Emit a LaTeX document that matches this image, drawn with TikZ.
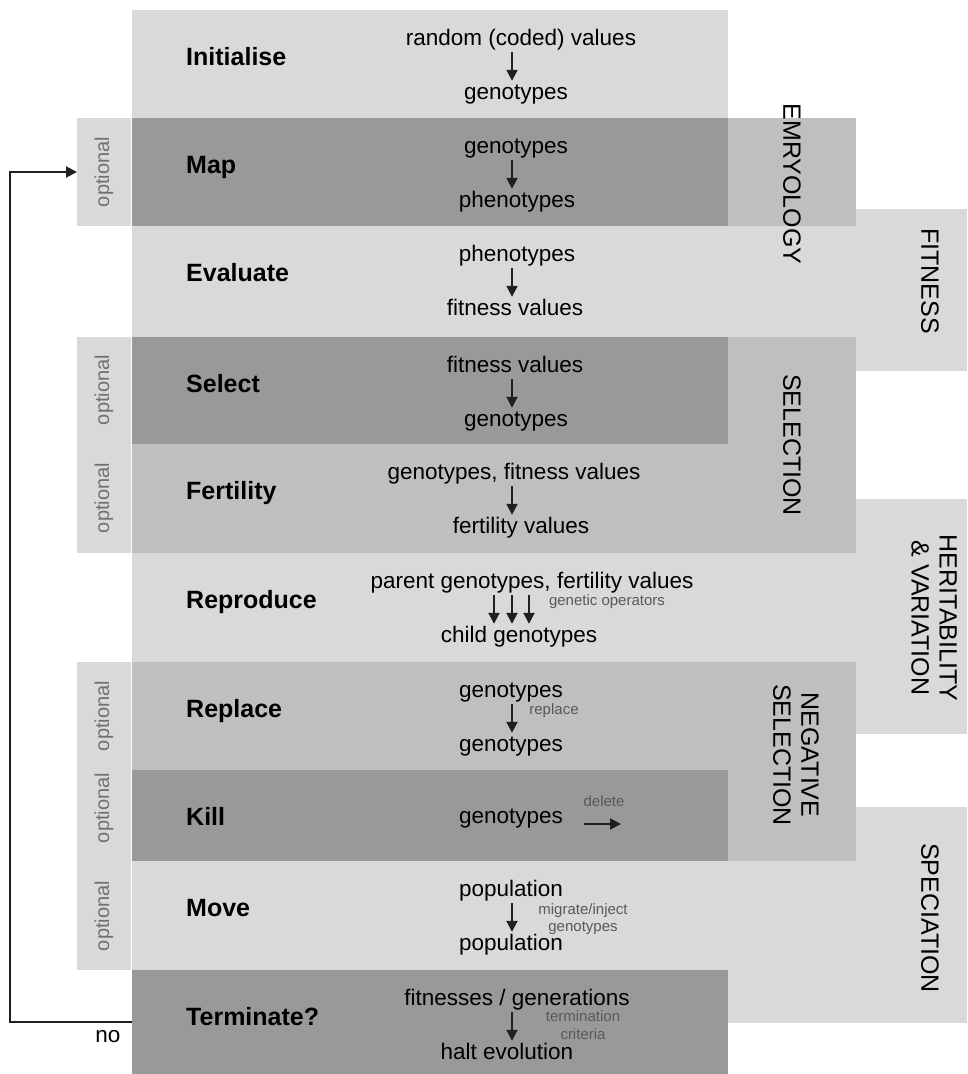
\documentclass[tikz,border=0pt]{standalone}
\usepackage{fontspec}
\setmainfont{Liberation Sans}
\usetikzlibrary{arrows.meta,positioning}
\definecolor{bandlite}{RGB}{217,217,217}
\definecolor{bandmid}{RGB}{191,191,191}
\definecolor{banddark}{RGB}{153,153,153}
\definecolor{ink}{RGB}{35,31,32}
\definecolor{note}{RGB}{89,89,89}
\definecolor{optgrey}{RGB}{112,112,112}
\tikzset{
  band/.style={inner sep=0pt,outer sep=0pt,minimum width=596pt},
  optbox/.style={fill=bandlite,inner sep=0pt,outer sep=0pt,minimum width=54pt},
  stage/.style={font=\fontsize{25}{30}\selectfont\bfseries,anchor=base west,inner sep=0pt},
  item/.style={font=\fontsize{22.5}{27}\selectfont,anchor=base,inner sep=0pt,text height=16pt,text depth=5pt},
  hint/.style={font=\fontsize{15}{17.5}\selectfont,text=note,align=center,inner sep=0pt},
  optlab/.style={font=\fontsize{20}{24}\selectfont,text=optgrey,rotate=90,inner sep=0pt},
  theme/.style={font=\fontsize{25}{28}\selectfont,rotate=-90,align=center,inner sep=0pt},
  flow/.style={ink,line width=2pt,-{Triangle[width=11pt,length=11pt]},shorten <=2pt,shorten >=2pt},
  back/.style={ink,line width=2pt,-{Triangle[width=11pt,length=11pt]}}
}
\begin{document}
\begin{tikzpicture}[x=1pt,y=-1pt]
  \useasboundingbox (0,0) rectangle (967,1074);
  % theme boxes behind the stages
  \foreach \l/\t/\r/\b/\c in {728/209/967/371/bandlite, 728/499/967/734/bandlite, 728/807/967/1023/bandlite,
      728/118/856/226/bandmid, 728/337/856/553/bandmid, 728/662/856/861/bandmid}
    \fill[\c] (\l,\t) rectangle (\r,\b);
  \node[optbox,minimum height=108pt] (opt-map) at (104,172) {};
  \node[optbox,minimum height=216pt] (opt-sel) at (104,445) {};
  \node[optbox,minimum height=308pt] (opt-rep) at (104,816) {};
  % stages
  \foreach \n/\t/\b/\c/\lab in {init/10/118/bandlite/Initialise, map/118/226/banddark/Map,
      eval/226/337/bandlite/Evaluate, sel/337/444/banddark/Select, fert/444/553/bandmid/Fertility,
      repro/553/662/bandlite/Reproduce, repl/662/770/bandmid/Replace, kill/770/861/banddark/Kill,
      move/861/970/bandlite/Move, term/970/1074/banddark/Terminate?} {
    \node[band,fill=\c,minimum height={\b-\t}] (row-\n) at (430,{(\t+\b)/2}) {};
    \node[stage] (lab-\n) at (186,{\t+55}) {\lab};
  }
  \foreach \y [count=\i] in {172,390,498,716,808,916}
    \node[optlab] (opt-\i) at (104,\y) {optional};
  \node[theme] (th-emb) at (792,184) {EMRYOLOGY};
  \node[theme] (th-fit) at (930,281) {FITNESS};
  \node[theme] (th-sel) at (792,445) {SELECTION};
  \node[theme] (th-her) at (934,618) {HERITABILITY\\\& VARIATION};
  \node[theme] (th-neg) at (796,755) {NEGATIVE\\SELECTION};
  \node[theme] (th-spe) at (930,918) {SPECIATION};
  % what each stage turns into what
  \coordinate (ax) at (512,0);
  \coordinate (ax1) at (494,0);
  \coordinate (ax3) at (529,0);
  \node[item] (init-a) at (521,45) {random (coded) values};
  \node[item] (init-b) at (516,99) {genotypes};
  \node[item] (map-a) at (516,153) {genotypes};
  \node[item] (map-b) at (517,207) {phenotypes};
  \node[item] (eval-a) at (517,261) {phenotypes};
  \node[item] (eval-b) at (515,315) {fitness values};
  \node[item] (sel-a) at (515,372) {fitness values};
  \node[item] (sel-b) at (516,426) {genotypes};
  \node[item] (fert-a) at (514,479) {genotypes, fitness values};
  \node[item] (fert-b) at (521,533) {fertility values};
  \node[item] (repro-a) at (532,588) {parent genotypes, fertility values};
  \node[item] (repro-b) at (519,642) {child genotypes};
  \node[item] (repl-a) at (511,697) {genotypes};
  \node[item] (repl-b) at (511,751) {genotypes};
  \node[item] (kill-a) at (511,823) {genotypes};
  \node[item] (move-a) at (511,896) {population};
  \node[item] (move-b) at (511,950) {population};
  \node[item] (term-a) at (517,1005) {fitnesses / generations};
  \node[item] (term-b) at (507,1059) {halt evolution};
  \foreach \s in {init,map,eval,sel,fert,repl,move,term}
    \draw[flow] (\s-a.south -| ax) -- (\s-b.north -| ax);
  \foreach \c in {ax1,ax,ax3}
    \draw[flow] (repro-a.south -| \c) -- (repro-b.north -| \c);
  \node[hint] (h-gen) at (607,602) {genetic operators};
  \node[hint] (h-rep) at (554,711) {replace};
  \node[hint] (h-del) at (604,801) {delete};
  \node[hint] (h-mig) at (583,919) {migrate/inject\\genotypes};
  \node[hint] (h-ter) at (583,1025) {termination\\criteria};
  \coordinate (del-from) at (584,824);
  \coordinate (del-to) at (621,824);
  \draw[back] (del-from) -- (del-to);
  % loop back when not terminated
  \draw[back] (row-term.west) -- ++(-122,0) |- (opt-map.west);
  \node[item] (nolab) at (108,1042) {no};
\end{tikzpicture}
\end{document}
